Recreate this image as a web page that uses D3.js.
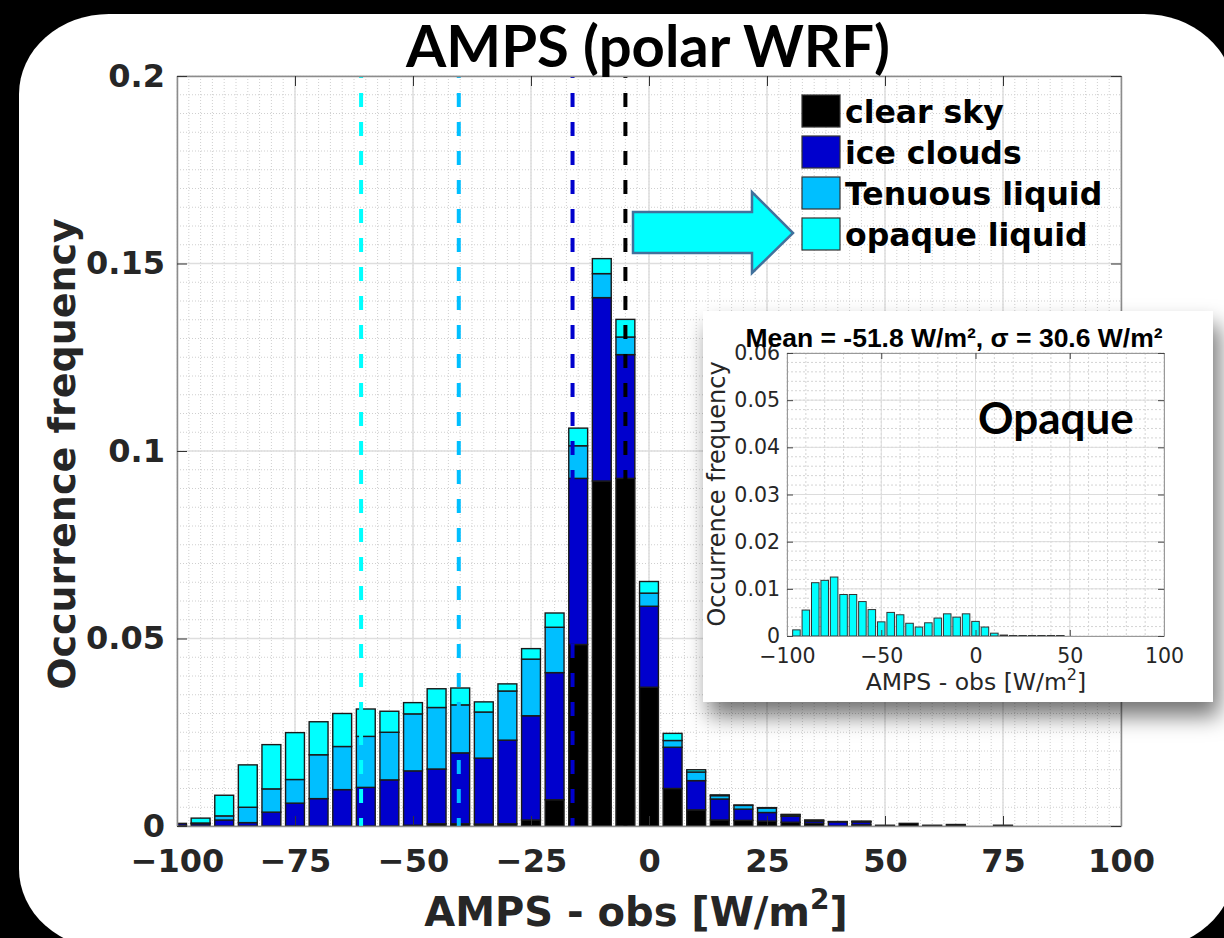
<!DOCTYPE html>
<html>
<head>
<meta charset="utf-8">
<title>AMPS (polar WRF)</title>
<script src="https://d3js.org/d3.v7.min.js"></script>
<style>
  body { margin: 0; background: #000; }
  svg { display: block; }
  .tick text { fill: #262626; }
</style>
</head>
<body>
<svg width="1224" height="938"></svg>
<script>
// bin centres, W/m2
var bins = [-100,-95,-90,-85,-80,-75,-70,-65,-60,-55,-50,-45,-40,-35,-30,-25,-20,-15,-10,-5,
            0,5,10,15,20,25,30,35,40,45,50,55,60,65,70,75,80,85,90,95,100];

var clearSky = [0.0002,0,0,0,0,0,0,0,0,0,0.0002,0.0006,0.0006,0.0005,0.0006,0.0016,0.0070,0.0484,0.0920,0.0927,
                0.0370,0.0100,0.0043,0.0016,0.0015,0.0013,0.0010,0.0007,0,0.0003,0.0002,0.0007,0.0002,0.0004,0,0.0002,0,0,0,0,0];
var iceClouds = [0.0005,0.0006,0.0016,0.0009,0.0037,0.0061,0.0073,0.0097,0.0103,0.0123,0.0145,0.0146,0.0189,0.0176,0.0223,0.0278,0.0339,0.0443,0.0489,0.0330,
                 0.0216,0.0110,0.0078,0.0056,0.0030,0.0023,0.0016,0.0006,0.0011,0.0008,0,0,0,0,0,0,0,0,0,0,0];
var tenuousLiquid = [0,0.0002,0.0011,0.0041,0.0062,0.0063,0.0117,0.0115,0.0136,0.0127,0.0152,0.0164,0.0128,0.0123,0.0131,0.0151,0.0121,0.0087,0.0064,0.0047,
                     0.0035,0.0018,0.0023,0.0009,0.0010,0.0012,0.0004,0.0002,0,0.0001,0,0,0,0,0,0,0,0,0,0,0];
var opaqueLiquid = [0,0.0013,0.0055,0.0113,0.0118,0.0125,0.0088,0.0088,0.0073,0.0056,0.0030,0.0050,0.0045,0.0027,0.0019,0.0028,0.0038,0.0047,0.0040,0.0047,
                    0.0031,0.0019,0.0006,0.0002,0.0001,0.0001,0.0001,0.0001,0.0001,0.0001,0,0,0,0,0,0,0,0,0,0,0];

// mean bias lines (opaque, tenuous, ice, clear)
var meanValues = [-61.0, -40.3, -16.2, -5.0];
var meanColors = ["#00ffff", "#00bfff", "#0000cd", "#000000"];

var seriesKeys = ["clear", "ice", "tenuous", "opaque"];
var seriesNames = ["clear sky", "ice clouds", "Tenuous liquid", "opaque liquid"];
var seriesColors = ["#000000", "#0000cd", "#00bfff", "#00ffff"];

var xTicks = [-100,-75,-50,-25,0,25,50,75,100];
var yTicks = [0,0.05,0.1,0.15,0.2];
var insetXTicks = [-100,-50,0,50,100];
var insetYTicks = [0,0.01,0.02,0.03,0.04,0.05,0.06];

var svg = d3.select("svg");
var defs = svg.append("defs");

// white rounded panel
svg.append("rect")
    .attr("x", 19).attr("y", 14)
    .attr("width", 1215).attr("height", 935)
    .attr("rx", 90).attr("ry", 80)
    .attr("fill", "#fff");

// ---------- main axes ----------
var pL = 177, pR = 1121, pT = 76, pB = 826;
var x = d3.scaleLinear().domain([-100, 100]).range([pL, pR]);
var y = d3.scaleLinear().domain([0, 0.2]).range([pB, pT]);

defs.append("clipPath").attr("id", "plotclip")
  .append("rect").attr("x", pL).attr("y", pT)
    .attr("width", pR - pL).attr("height", pB - pT);

var grid = svg.append("g");
grid.selectAll(".minx").data(d3.range(-100, 100.1, 2.5)).enter().append("line")
    .attr("x1", d => x(d)).attr("x2", d => x(d)).attr("y1", pT).attr("y2", pB)
    .attr("stroke", "#cfcfcf").attr("stroke-dasharray", "1,2");
grid.selectAll(".miny").data(d3.range(0, 0.2001, 0.005)).enter().append("line")
    .attr("y1", d => y(d)).attr("y2", d => y(d)).attr("x1", pL).attr("x2", pR)
    .attr("stroke", "#cfcfcf").attr("stroke-dasharray", "1,2");
grid.selectAll(".majx").data(xTicks).enter().append("line")
    .attr("x1", d => x(d)).attr("x2", d => x(d)).attr("y1", pT).attr("y2", pB)
    .attr("stroke", "#dedede").attr("stroke-width", 1.5);
grid.selectAll(".majy").data(yTicks).enter().append("line")
    .attr("y1", d => y(d)).attr("y2", d => y(d)).attr("x1", pL).attr("x2", pR)
    .attr("stroke", "#dedede").attr("stroke-width", 1.5);

var rows = bins.map(function(b, i) {
  return {bin: b, clear: clearSky[i], ice: iceClouds[i], tenuous: tenuousLiquid[i], opaque: opaqueLiquid[i]};
});
var stacked = d3.stack().keys(seriesKeys)(rows);
var barW = 4; // 0.8 of the 5 W/m2 bin

var bars = svg.append("g").attr("clip-path", "url(#plotclip)");
stacked.forEach(function(layer, k) {
  bars.append("g").selectAll("rect")
      .data(layer.filter(d => d[1] - d[0] > 0))
      .enter().append("rect")
      .attr("x", d => x(d.data.bin - barW / 2))
      .attr("width", d => x(d.data.bin + barW / 2) - x(d.data.bin - barW / 2))
      .attr("y", d => y(d[1]))
      .attr("height", d => y(d[0]) - y(d[1]))
      .attr("fill", seriesColors[k])
      .attr("stroke", "#1a1a1a").attr("stroke-width", 1.4);
});

svg.append("g").selectAll("line").data(meanValues).enter().append("line")
    .attr("x1", d => x(d)).attr("x2", d => x(d))
    .attr("y1", pT).attr("y2", pB)
    .attr("stroke", (d, i) => meanColors[i])
    .attr("stroke-width", 4)
    .attr("stroke-dasharray", "14,15")
    .attr("stroke-dashoffset", 12);

// axes
function styleAxis(sel, fontSize) {
  sel.select(".domain").attr("stroke", "#8c8c8c").attr("stroke-width", 1.5);
  sel.selectAll(".tick line").attr("stroke", "#333");
  sel.selectAll(".tick text")
      .attr("font-family", "DejaVu Sans").attr("font-weight", "bold")
      .attr("font-size", fontSize);
}
var fmt = d => String(+d.toFixed(2)).replace("-", "\u2212");

svg.append("g").attr("transform", "translate(0," + pB + ")")
    .call(d3.axisBottom(x).tickValues(xTicks).tickSizeInner(-10).tickSizeOuter(0).tickPadding(23).tickFormat(fmt))
    .call(styleAxis, 32);
svg.append("g").attr("transform", "translate(0," + pT + ")")
    .call(d3.axisTop(x).tickValues(xTicks).tickSizeInner(-10).tickSizeOuter(0).tickFormat(""))
    .call(styleAxis, 32);
svg.append("g").attr("transform", "translate(" + pL + ",0)")
    .call(d3.axisLeft(y).tickValues(yTicks).tickSizeInner(-10).tickSizeOuter(0).tickPadding(12).tickFormat(fmt))
    .call(styleAxis, 32);
svg.append("g").attr("transform", "translate(" + pR + ",0)")
    .call(d3.axisRight(y).tickValues(yTicks).tickSizeInner(-10).tickSizeOuter(0).tickFormat(""))
    .call(styleAxis, 32);

svg.append("text")
    .attr("transform", "translate(62,454) rotate(-90)")
    .attr("text-anchor", "middle").attr("dominant-baseline", "central")
    .attr("font-family", "DejaVu Sans").attr("font-weight", "bold").attr("font-size", 38)
    .attr("fill", "#262626")
    .text("Occurrence frequency");

var xl = svg.append("text")
    .attr("x", 636).attr("y", 926).attr("text-anchor", "middle")
    .attr("font-family", "DejaVu Sans").attr("font-weight", "bold").attr("font-size", 40)
    .attr("fill", "#262626");
xl.append("tspan").text("AMPS - obs [W/m");
xl.append("tspan").attr("dy", -17).attr("font-size", 28).text("2");
xl.append("tspan").attr("dy", 17).text("]");

// legend
var leg = svg.append("g").attr("transform", "translate(802,95)");
seriesNames.forEach(function(name, i) {
  leg.append("rect").attr("x", 0).attr("y", i * 41).attr("width", 38).attr("height", 32)
      .attr("fill", seriesColors[i]).attr("stroke", "#333").attr("stroke-width", 1.2);
  leg.append("text").attr("x", 43).attr("y", i * 41 + 28)
      .attr("font-family", "DejaVu Sans").attr("font-weight", "bold").attr("font-size", 31.5)
      .attr("fill", "#000").text(name);
});

// block arrow pointing at the opaque legend entry
svg.append("polygon")
    .attr("points", "633,212 752,212 752,192 793,233 752,273 752,253 633,253")
    .attr("fill", "#00ffff").attr("stroke", "#41719c").attr("stroke-width", 2.5)
    .attr("stroke-linejoin", "miter");

// ---------- inset ----------
var sh = defs.append("filter").attr("id", "shadow")
    .attr("x", "-10%").attr("y", "-10%").attr("width", "130%").attr("height", "140%");
sh.append("feDropShadow").attr("dx", 6).attr("dy", 14).attr("stdDeviation", 11)
    .attr("flood-color", "#000").attr("flood-opacity", 0.55);

svg.append("rect").attr("x", 703).attr("y", 311).attr("width", 510).attr("height", 391)
    .attr("fill", "#fff").attr("filter", "url(#shadow)");

var il = 787, ir = 1164, it = 353, ib = 636;
var xi = d3.scaleLinear().domain([-100, 100]).range([il, ir]);
var yi = d3.scaleLinear().domain([0, 0.06]).range([ib, it]);
var ig = svg.append("g");

ig.selectAll(".minx").data(d3.range(-100, 100.1, 10)).enter().append("line")
    .attr("x1", d => xi(d)).attr("x2", d => xi(d)).attr("y1", it).attr("y2", ib)
    .attr("stroke", "#d4d4d4").attr("stroke-dasharray", "2,2");
ig.selectAll(".miny").data(d3.range(0, 0.0601, 0.002)).enter().append("line")
    .attr("y1", d => yi(d)).attr("y2", d => yi(d)).attr("x1", il).attr("x2", ir)
    .attr("stroke", "#d4d4d4").attr("stroke-dasharray", "2,2");
ig.selectAll(".majx").data(insetXTicks).enter().append("line")
    .attr("x1", d => xi(d)).attr("x2", d => xi(d)).attr("y1", it).attr("y2", ib)
    .attr("stroke", "#dcdcdc");
ig.selectAll(".majy").data(insetYTicks).enter().append("line")
    .attr("y1", d => yi(d)).attr("y2", d => yi(d)).attr("x1", il).attr("x2", ir)
    .attr("stroke", "#dcdcdc");

ig.append("g").selectAll("rect")
    .data(rows.filter(d => d.opaque > 0))
    .enter().append("rect")
    .attr("x", d => xi(d.bin - barW / 2))
    .attr("width", d => xi(d.bin + barW / 2) - xi(d.bin - barW / 2))
    .attr("y", d => yi(d.opaque))
    .attr("height", d => yi(0) - yi(d.opaque))
    .attr("fill", "#00ffff").attr("stroke", "#333").attr("stroke-width", 1);

function styleInset(sel) {
  sel.select(".domain").attr("stroke", "#999");
  sel.selectAll(".tick line").attr("stroke", "#444");
  sel.selectAll(".tick text").attr("font-family", "DejaVu Sans").attr("font-size", 20.5);
}
ig.append("g").attr("transform", "translate(0," + ib + ")")
    .call(d3.axisBottom(xi).tickValues(insetXTicks).tickSizeInner(-6).tickSizeOuter(0).tickPadding(12).tickFormat(fmt))
    .call(styleInset);
ig.append("g").attr("transform", "translate(0," + it + ")")
    .call(d3.axisTop(xi).tickValues(insetXTicks).tickSizeInner(-6).tickSizeOuter(0).tickFormat(""))
    .call(styleInset);
ig.append("g").attr("transform", "translate(" + il + ",0)")
    .call(d3.axisLeft(yi).tickValues(insetYTicks).tickSizeInner(-6).tickSizeOuter(0).tickPadding(7).tickFormat(fmt))
    .call(styleInset);
ig.append("g").attr("transform", "translate(" + ir + ",0)")
    .call(d3.axisRight(yi).tickValues(insetYTicks).tickSizeInner(-6).tickSizeOuter(0).tickFormat(""))
    .call(styleInset);

ig.append("text")
    .attr("transform", "translate(717,494) rotate(-90)")
    .attr("text-anchor", "middle").attr("dominant-baseline", "central")
    .attr("font-family", "DejaVu Sans").attr("font-size", 24).attr("fill", "#262626")
    .text("Occurrence frequency");

var ixl = ig.append("text")
    .attr("x", 976).attr("y", 690).attr("text-anchor", "middle")
    .attr("font-family", "DejaVu Sans").attr("font-size", 23.5).attr("fill", "#262626");
ixl.append("tspan").text("AMPS - obs [W/m");
ixl.append("tspan").attr("dy", -10).attr("font-size", 16).text("2");
ixl.append("tspan").attr("dy", 10).text("]");

ig.append("text")
    .attr("x", 954).attr("y", 347).attr("text-anchor", "middle")
    .attr("font-family", "Liberation Sans").attr("font-weight", "bold").attr("font-size", 26.5)
    .attr("fill", "#000")
    .text("Mean = -51.8 W/m\u00b2, \u03c3 = 30.6 W/m\u00b2");

ig.append("text")
    .attr("x", 978).attr("y", 434)
    .attr("font-family", "Lato").attr("font-weight", "bold").attr("font-size", 44)
    .attr("fill", "#000")
    .text("Opaque");

// title
svg.append("text")
    .attr("x", 648).attr("y", 67).attr("text-anchor", "middle")
    .attr("font-family", "Lato").attr("font-weight", "bold").attr("font-size", 58)
    .attr("fill", "#000")
    .text("AMPS (polar WRF)");
</script>
</body>
</html>
